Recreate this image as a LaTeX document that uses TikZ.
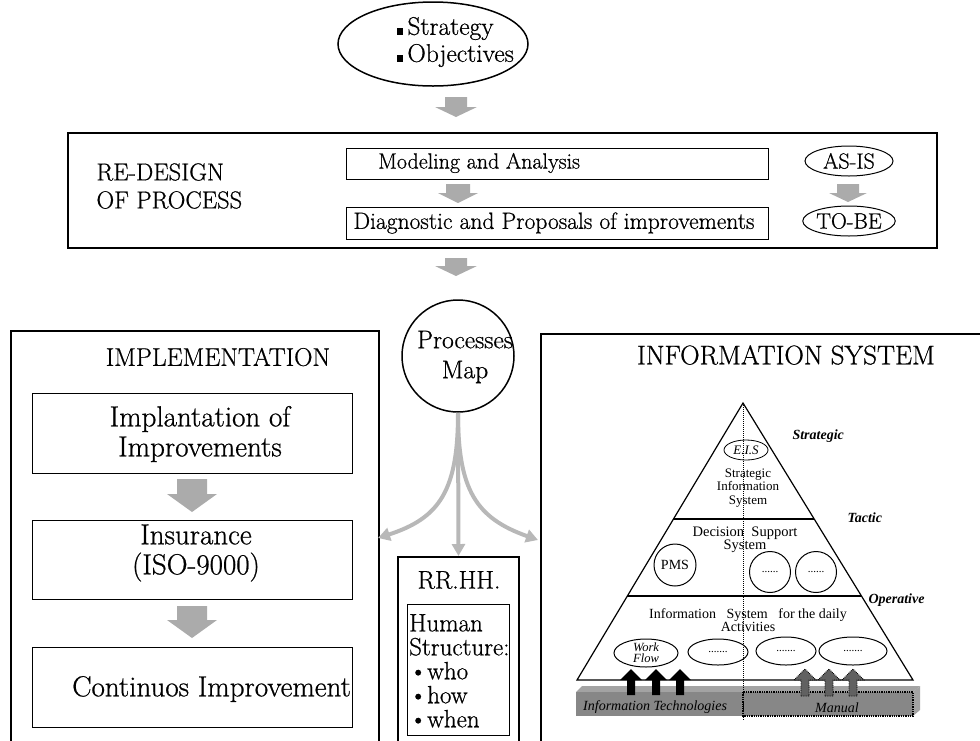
\documentclass[tikz,border=0pt]{standalone}
\usepackage{fontspec}
\setmainfont{Latin Modern Roman}[FakeBold=0.7]
\newfontfamily\tnr{Liberation Serif}
\usetikzlibrary{shapes.geometric,arrows.meta,calc}

% gray block arrow pointing down: centre x, top y, tip y, shaft half width, head half width, head length
\newcommand\downblock[6]{%
  \fill[blockfill] (#1-#4,#2) -- (#1+#4,#2) -- (#1+#4,#3-#6) -- (#1+#5,#3-#6)
    -- (#1,#3) -- (#1-#5,#3-#6) -- (#1-#4,#3-#6) -- cycle;}
% block arrow pointing up: centre x, bottom y, tip y, style
\newcommand\upblock[4]{%
  \path[#4] (#1-4,#2) -- (#1+4,#2) -- (#1+4,#3+11) -- (#1+11,#3+11)
    -- (#1,#3) -- (#1-11,#3+11) -- (#1-4,#3+11) -- cycle;}
\newcommand\sqbul{\rule[0pt]{6pt}{7pt}\,}
\newcommand\fs[2]{\fontsize{#1}{#2}\selectfont}

\begin{document}
\begin{tikzpicture}[x=1pt,y=-1pt,
  blockfill/.style={fill=black!33},
  frame/.style={draw, line width=2pt, anchor=north west, inner sep=0pt},
  box/.style={draw, line width=1pt, anchor=north west, inner sep=0pt},
  oval/.style={draw, ellipse, line width=1pt, inner sep=0pt},
  conn/.style={draw=black!28, line width=4pt, -{Triangle[length=12pt,width=13pt]}},
  pyr/.style={line width=1.2pt},
  lvl/.style={font=\tnr\bfseries\itshape\fs{14}{15}, anchor=west},
  small/.style={font=\tnr\fs{14.5}{13.5}, align=center, inner sep=0pt},
  itbar/.style={font=\tnr\itshape\fs{14}{16}, inner sep=0pt},
]
\useasboundingbox (0,0) rectangle (980,740);
\clip (0,0) rectangle (980,740);

% ---- goals ----
\node[draw, ellipse, line width=1.5pt, minimum width=190pt, minimum height=84pt] (goals) at (433,44) {};
\node[anchor=west, align=left, inner sep=0pt, font=\fs{25.5}{27}] (goalstxt) at (397,42) {\sqbul Strategy\\\sqbul Objectives};
\downblock{456}{97}{117}{11}{21}{10}

% ---- re-design of process ----
\node[frame, minimum width=869pt, minimum height=115pt] (redesign) at (67,132) {};
\node[anchor=west, align=left, font=\fs{24.5}{28}] (redtitle) at (93,186) {RE-DESIGN\\OF PROCESS};
\node[box, minimum width=422pt, minimum height=31pt] (model) at (346,148) {};
\node[anchor=west, inner sep=0pt, font=\fs{22}{22}] (modeltxt) at (378,163) {Modeling and Analysis};
\downblock{458}{184}{203}{12}{20}{10}
\node[box, minimum width=422pt, minimum height=32pt] (diag) at (346,207) {};
\node[font=\fs{23.5}{24}] (diagtxt) at (554,223) {Diagnostic and Proposals of improvements};
\node[oval, minimum width=88pt, minimum height=30pt, font=\fs{22}{22}] (asis) at (849,161) {AS-IS};
\downblock{848}{184}{202}{11}{19}{9}
\node[oval, minimum width=88pt, minimum height=30pt, font=\fs{22}{22}] (tobe) at (849,221) {TO-BE};
\downblock{456}{258}{276}{11}{21}{10}

% ---- processes map ----
\node[draw, circle, line width=1.5pt, minimum size=112pt] (pmap) at (458,356) {};
\node[align=center, font=\fs{25.5}{30}] (pmaptxt) at (465,357) {Processes\\Map};

% ---- implementation ----
\node[frame, minimum width=368pt, minimum height=430pt] (impl) at (10,330) {};
\node[font=\fs{25.5}{26}] (impltitle) at (218,357) {IMPLEMENTATION};
\node[box, minimum width=320pt, minimum height=80pt] (implant) at (32,393) {};
\node[align=center, font=\fs{29}{30}] (implanttxt) at (200,434) {Implantation of\\Improvements};
\downblock{192}{479}{512}{15}{25}{18}
\node[box, minimum width=320pt, minimum height=79pt] (iso) at (32,520) {};
\node[align=center, font=\fs{29}{30}] (isotxt) at (196,553) {Insurance\\(ISO-9000)};
\downblock{192}{606}{638}{15}{25}{18}
\node[box, minimum width=320pt, minimum height=80pt] (cont) at (32,647) {};
\node[anchor=west, inner sep=0pt, font=\fs{29}{30}] (conttxt) at (72,689) {Continuos Improvement};

% ---- human resources ----
\node[frame, minimum width=121pt, minimum height=200pt] (rrhh) at (397,556) {};
\node[font=\fs{25.5}{26}] (rrhhtxt) at (459,580) {RR.HH.};
\node[box, line width=0.8pt, minimum width=102pt, minimum height=131pt] (human) at (407,604) {};
\node[anchor=north west, align=left, inner sep=0pt, font=\fs{25}{24}] (humantxt) at (409,614)
  {Human\\Structure:\\\textbullet who\\\textbullet how\\\textbullet when};

% ---- information system ----
\node[frame, minimum width=460pt, minimum height=430pt] (infosys) at (540,333) {};
\node[font=\fs{27}{28}] (infotitle) at (786,355) {INFORMATION SYSTEM};

% connectors from the processes map
\coordinate (lend) at (378,538);
\coordinate (rend) at (538,540);
\draw[conn] (pmap.south) .. controls (458,490) and (440,518) .. (lend);
\draw[conn] (pmap.south) -- (rrhh.north);
\draw[conn] (pmap.south) .. controls (458,490) and (476,518) .. (rend);

% pyramid
\coordinate (apex) at (743,403);
\coordinate (bl) at (577,680);
\coordinate (br) at (913,680);
\draw[pyr] (apex) -- (bl) -- (br) -- cycle;
\draw[pyr] ($(apex)!0.4188!(bl)$) -- ($(apex)!0.4188!(br)$);
\draw[pyr] ($(apex)!0.6968!(bl)$) -- ($(apex)!0.6968!(br)$);
\node[lvl] (lstrat) at (789,436) {Strategic};
\node[lvl] (ltact) at (844,518) {Tactic};
\node[lvl] (loper) at (865,600) {Operative};

\node[oval, line width=0.8pt, minimum width=44pt, minimum height=20pt, font=\tnr\itshape\fs{13}{14}] (eis) at (746,450) {E.I.S};
\node[small, font=\tnr\fs{13}{13.5}] (sis) at (748,488) {Strategic\\Information\\System};
\node[small] (dss) at (745,540) {Decision~~Support\\System};
\node[oval, circle, minimum size=42pt, font=\tnr\fs{14}{15}] (pms) at (675,565) {PMS};
\node[oval, circle, minimum size=41pt, font=\tnr\fs{11}{12}] (dsa) at (770,572) {......};
\node[oval, circle, minimum size=41pt, font=\tnr\fs{11}{12}] (dsb) at (816,572) {......};
\node[small, font=\tnr\fs{14}{13.5}] (daily) at (748,620) {Information~~~System~~~for the daily\\Activities};
\node[oval, minimum width=64pt, minimum height=26pt, align=center, font=\tnr\itshape\fs{12.5}{11}] (wflow) at (646,653) {Work\\Flow};
\node[oval, minimum width=60pt, minimum height=26pt, font=\tnr\fs{11}{12}] (opa) at (718,652) {.......};
\node[oval, minimum width=60pt, minimum height=28pt, font=\tnr\fs{11}{12}] (opb) at (786,651) {.......};
\node[oval, minimum width=68pt, minimum height=28pt, font=\tnr\fs{11}{12}] (opc) at (853,651) {.......};

% technology / manual bar
\fill[black!36] (576,692) -- (582,686) -- (920,686) -- (913,692) -- cycle;
\fill[black!36] (913,692) -- (920,686) -- (920,710) -- (913,716) -- cycle;
\fill[black!47] (576,692) rectangle (913,716);
\draw[densely dotted, line width=1.3pt] (743,692) rectangle (913,716);
\node[itbar, anchor=base west] (ittxt) at (583,710) {Information Technologies};
\node[itbar, anchor=base] (mantxt) at (837,712) {Manual};

% support arrows
\upblock{631}{695}{669}{fill=black}
\upblock{656}{695}{669}{fill=black}
\upblock{680}{695}{669}{fill=black}
\upblock{805}{696}{669}{fill=black!62, draw=black, densely dotted, line width=0.8pt}
\upblock{829}{696}{669}{fill=black!62, draw=black, densely dotted, line width=0.8pt}
\upblock{853}{696}{669}{fill=black!62, draw=black, densely dotted, line width=0.8pt}

% split between automated and manual support
\draw[densely dotted, line width=1pt] (apex) -- (743,720);
\end{tikzpicture}
\end{document}
